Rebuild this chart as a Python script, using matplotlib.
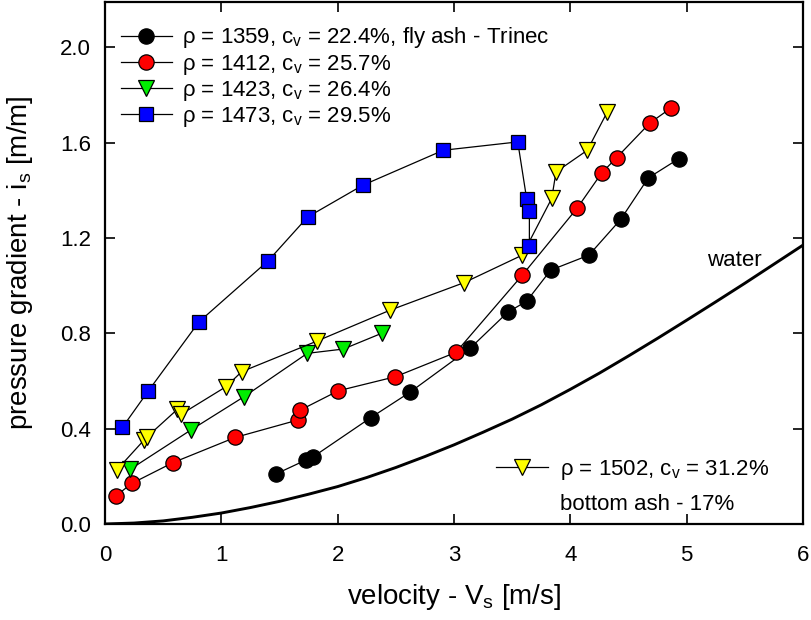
import matplotlib
matplotlib.use("Agg")
import matplotlib.pyplot as plt

plt.rcParams['font.family'] = ['Liberation Sans', 'DejaVu Sans']
plt.rcParams['mathtext.fontset'] = 'custom'
plt.rcParams['mathtext.rm'] = 'Liberation Sans'
plt.rcParams['mathtext.it'] = 'Liberation Sans'
plt.rcParams['mathtext.default'] = 'regular'

# Measured pressure gradients (velocity in m/s, gradient in m/m)
v_1359 = [1.47, 1.725, 1.79, 2.284, 2.622, 3.138, 3.461, 3.625, 3.831, 4.16, 4.433, 4.67, 4.934]
i_1359 = [0.21, 0.268, 0.282, 0.446, 0.553, 0.737, 0.888, 0.935, 1.065, 1.128, 1.278, 1.452, 1.533]

v_1412 = [0.092, 0.229, 0.582, 1.118, 1.656, 1.679, 2.006, 2.497, 3.016, 3.587, 4.06, 4.27, 4.398, 4.685, 4.865]
i_1412 = [0.117, 0.17, 0.257, 0.363, 0.436, 0.478, 0.559, 0.618, 0.72, 1.044, 1.326, 1.473, 1.537, 1.683, 1.745]

v_1423 = [0.215, 0.737, 1.195, 1.739, 2.049, 2.378]
i_1423 = [0.229, 0.394, 0.534, 0.716, 0.734, 0.8]

v_1473 = [0.149, 0.372, 0.808, 1.404, 1.742, 2.215, 2.908, 3.548, 3.625, 3.648, 3.648]
i_1473 = [0.405, 0.558, 0.848, 1.105, 1.288, 1.421, 1.568, 1.603, 1.363, 1.312, 1.167]

v_1502 = [0.10, 0.335, 0.358, 0.622, 0.653, 1.04, 1.175, 1.82, 2.45, 3.089, 3.587, 3.84, 3.877, 4.146, 4.318]
i_1502 = [0.226, 0.352, 0.364, 0.481, 0.46, 0.576, 0.639, 0.767, 0.897, 1.013, 1.128, 1.366, 1.477, 1.568, 1.729]

# Clear-water friction curve
v_water = [0.0, 0.25, 0.5, 0.75, 1.0, 1.25, 1.5, 1.75, 2.0, 2.25, 2.5, 2.75, 3.0,
           3.25, 3.5, 3.75, 4.0, 4.25, 4.5, 4.75, 5.0, 5.25, 5.5, 5.75, 6.0]
i_water = [0.0, 0.004, 0.013, 0.028, 0.046, 0.069, 0.095, 0.125, 0.157, 0.195, 0.237, 0.283, 0.332,
           0.385, 0.44, 0.5, 0.565, 0.633, 0.705, 0.779, 0.855, 0.932, 1.01, 1.09, 1.17]

labels_top = [r'$\rho$ = 1359, c$_v$ = 22.4%, fly ash - Trinec',
              r'$\rho$ = 1412, c$_v$ = 25.7%',
              r'$\rho$ = 1423, c$_v$ = 26.4%',
              r'$\rho$ = 1473, c$_v$ = 29.5%']
label_bottom = r'$\rho$ = 1502, c$_v$ = 31.2%'
note_bottom = 'bottom ash - 17%'

fig = plt.figure(figsize=(8.11, 6.20), dpi=100)
ax = fig.add_axes([105 / 811, 96 / 620, 698 / 811, 522 / 620])

line_kw = dict(color='black', lw=0.9, mec='black', mew=0.9)
ax.plot(v_water, i_water, color='black', lw=2.1, zorder=2)
s1359, = ax.plot(v_1359, i_1359, marker='o', ms=11, mfc='black', **line_kw, zorder=3)
s1412, = ax.plot(v_1412, i_1412, marker='o', ms=11, mfc='#ff0000', **line_kw, zorder=3)
s1423, = ax.plot(v_1423, i_1423, marker='v', ms=11, mfc='#00ee00', **line_kw, zorder=3)
s1473, = ax.plot(v_1473, i_1473, marker='s', ms=9.5, mfc='#0000ff', **line_kw, zorder=4)
s1502, = ax.plot(v_1502, i_1502, marker='v', ms=11, mfc='#ffff00', **line_kw, zorder=3)

ax.set_xlim(0, 6)
ax.set_ylim(0, 2.19)
ax.set_xticks([0, 1, 2, 3, 4, 5, 6])
ax.set_yticks([0.0, 0.4, 0.8, 1.2, 1.6, 2.0])
ax.set_yticklabels(['0.0', '0.4', '0.8', '1.2', '1.6', '2.0'])
ax.tick_params(direction='in', top=True, right=True, length=7, width=1.2,
               labelsize=16)
ax.tick_params(axis='x', pad=15)
ax.tick_params(axis='y', pad=10)
for sp in ax.spines.values():
    sp.set_linewidth(1.6)

ax.set_xlabel(r'velocity - V$_s$ [m/s]', fontsize=20, labelpad=12)
ax.set_ylabel(r'pressure gradient - i$_s$ [m/m]', fontsize=20, labelpad=18)

ax.text(5.41, 1.107, 'water', fontsize=16, ha='center', va='center')

leg1 = ax.legend([s1359, s1412, s1423, s1473], labels_top, loc='upper left',
                 bbox_to_anchor=(0.0225, 0.955), frameon=False, fontsize=16,
                 handlelength=2.3, handletextpad=0.45, labelspacing=0.1,
                 borderpad=0, borderaxespad=0)
ax.add_artist(leg1)
ax.legend([s1502], [label_bottom], loc='center left', bbox_to_anchor=(0.560, 0.103),
          frameon=False, fontsize=16, handlelength=2.34, handletextpad=0.54,
          borderpad=0, borderaxespad=0)
ax.text(0.652, 0.038, note_bottom, transform=ax.transAxes, fontsize=16,
        ha='left', va='center')

fig.savefig('out.png', dpi=100)
